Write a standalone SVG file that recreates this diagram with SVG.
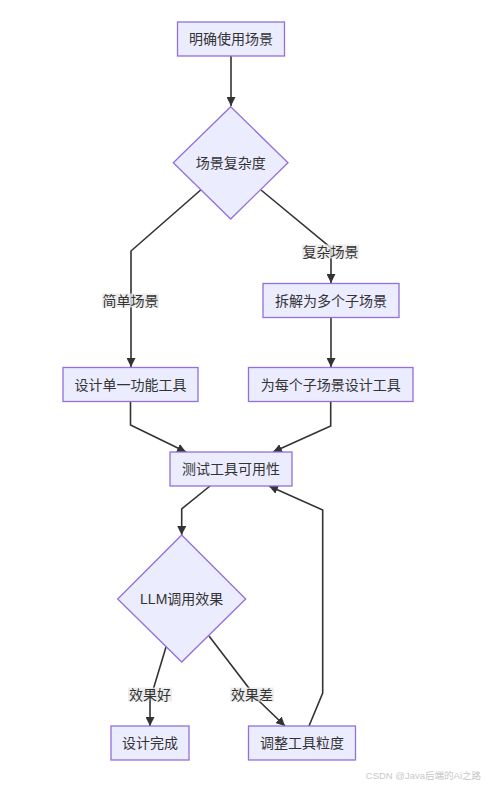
<svg xmlns="http://www.w3.org/2000/svg" width="485" height="787" viewBox="0 0 485 787">
<style>
.node rect,.node polygon{fill:#ECECFF;stroke:#9370DB;stroke-width:1.3}
.t{font-family:"Liberation Sans","Noto Sans CJK SC",sans-serif;font-size:14px;fill:#333;text-anchor:middle;dominant-baseline:central}
.edges path{fill:none;stroke:#333;stroke-width:1.6}
.lbl rect{fill:#E8E8E8;fill-opacity:0.8}
.wm{font-family:"Liberation Sans","Noto Sans CJK SC",sans-serif;font-size:9.5px;fill:#c8c8c8;text-anchor:end}
</style>
<defs>
<marker id="arr" viewBox="0 0 10 10" refX="10" refY="5" markerWidth="9" markerHeight="9" markerUnits="userSpaceOnUse" orient="auto">
<path d="M0,0 L10,5 L0,10 z" fill="#333"/>
</marker>
</defs>
<rect width="485" height="787" fill="#fff"/>
<g class="edges">
<path d="M231,56 L231,106" marker-end="url(#arr)"/>
<path d="M200.7,190 L131,251 L131,367" marker-end="url(#arr)"/>
<path d="M261,190 L331,248 L331,283" marker-end="url(#arr)"/>
<path d="M331,317 L331,367" marker-end="url(#arr)"/>
<path d="M130.5,401 L130.5,425 L186,452" marker-end="url(#arr)"/>
<path d="M330.7,401 L330.7,426 L273,452" marker-end="url(#arr)"/>
<path d="M210,486 L181.7,509 L181.7,535" marker-end="url(#arr)"/>
<path d="M166,647 L150,700 L150,726" marker-end="url(#arr)"/>
<path d="M209,636 L258,700 L285,726" marker-end="url(#arr)"/>
<path d="M309,726 L322.7,693 L322.7,510 L269,486" marker-end="url(#arr)"/>
</g>
<g class="lbl">
<rect x="102" y="293.5" width="57" height="14"/><text class="t" x="130.5" y="300.5">简单场景</text>
<rect x="302" y="244.5" width="57" height="14"/><text class="t" x="330.5" y="251.5">复杂场景</text>
<rect x="128" y="687.5" width="44" height="14"/><text class="t" x="150" y="694.5">效果好</text>
<rect x="230" y="687.5" width="44" height="14"/><text class="t" x="252" y="694.5">效果差</text>
</g>
<g id="n1" class="node"><rect x="177.5" y="22" width="107" height="34"/><text class="t" x="231" y="39">明确使用场景</text></g>
<g id="n2" class="node"><polygon points="230.7,106.7 288,162.7 230.7,219 173.3,162.7"/><text class="t" x="230.7" y="162.7">场景复杂度</text></g>
<g id="n3" class="node"><rect x="263" y="283.5" width="136" height="34"/><text class="t" x="331" y="300.5">拆解为多个子场景</text></g>
<g id="n4" class="node"><rect x="63" y="367.5" width="135" height="34"/><text class="t" x="130.5" y="384.5">设计单一功能工具</text></g>
<g id="n5" class="node"><rect x="248.5" y="367.5" width="164.5" height="34"/><text class="t" x="330.7" y="384.5">为每个子场景设计工具</text></g>
<g id="n6" class="node"><rect x="170" y="452" width="122" height="34"/><text class="t" x="231" y="469">测试工具可用性</text></g>
<g id="n7" class="node"><polygon points="181.7,535 245.7,599 181.7,662 117.7,599"/><text class="t" x="181.7" y="599">LLM调用效果</text></g>
<g id="n8" class="node"><rect x="111" y="726" width="78" height="34"/><text class="t" x="150" y="743">设计完成</text></g>
<g id="n9" class="node"><rect x="248.5" y="726" width="107" height="34"/><text class="t" x="302" y="743">调整工具粒度</text></g>
<text class="wm" x="481" y="779">CSDN @Java后端的Ai之路</text>
</svg>
